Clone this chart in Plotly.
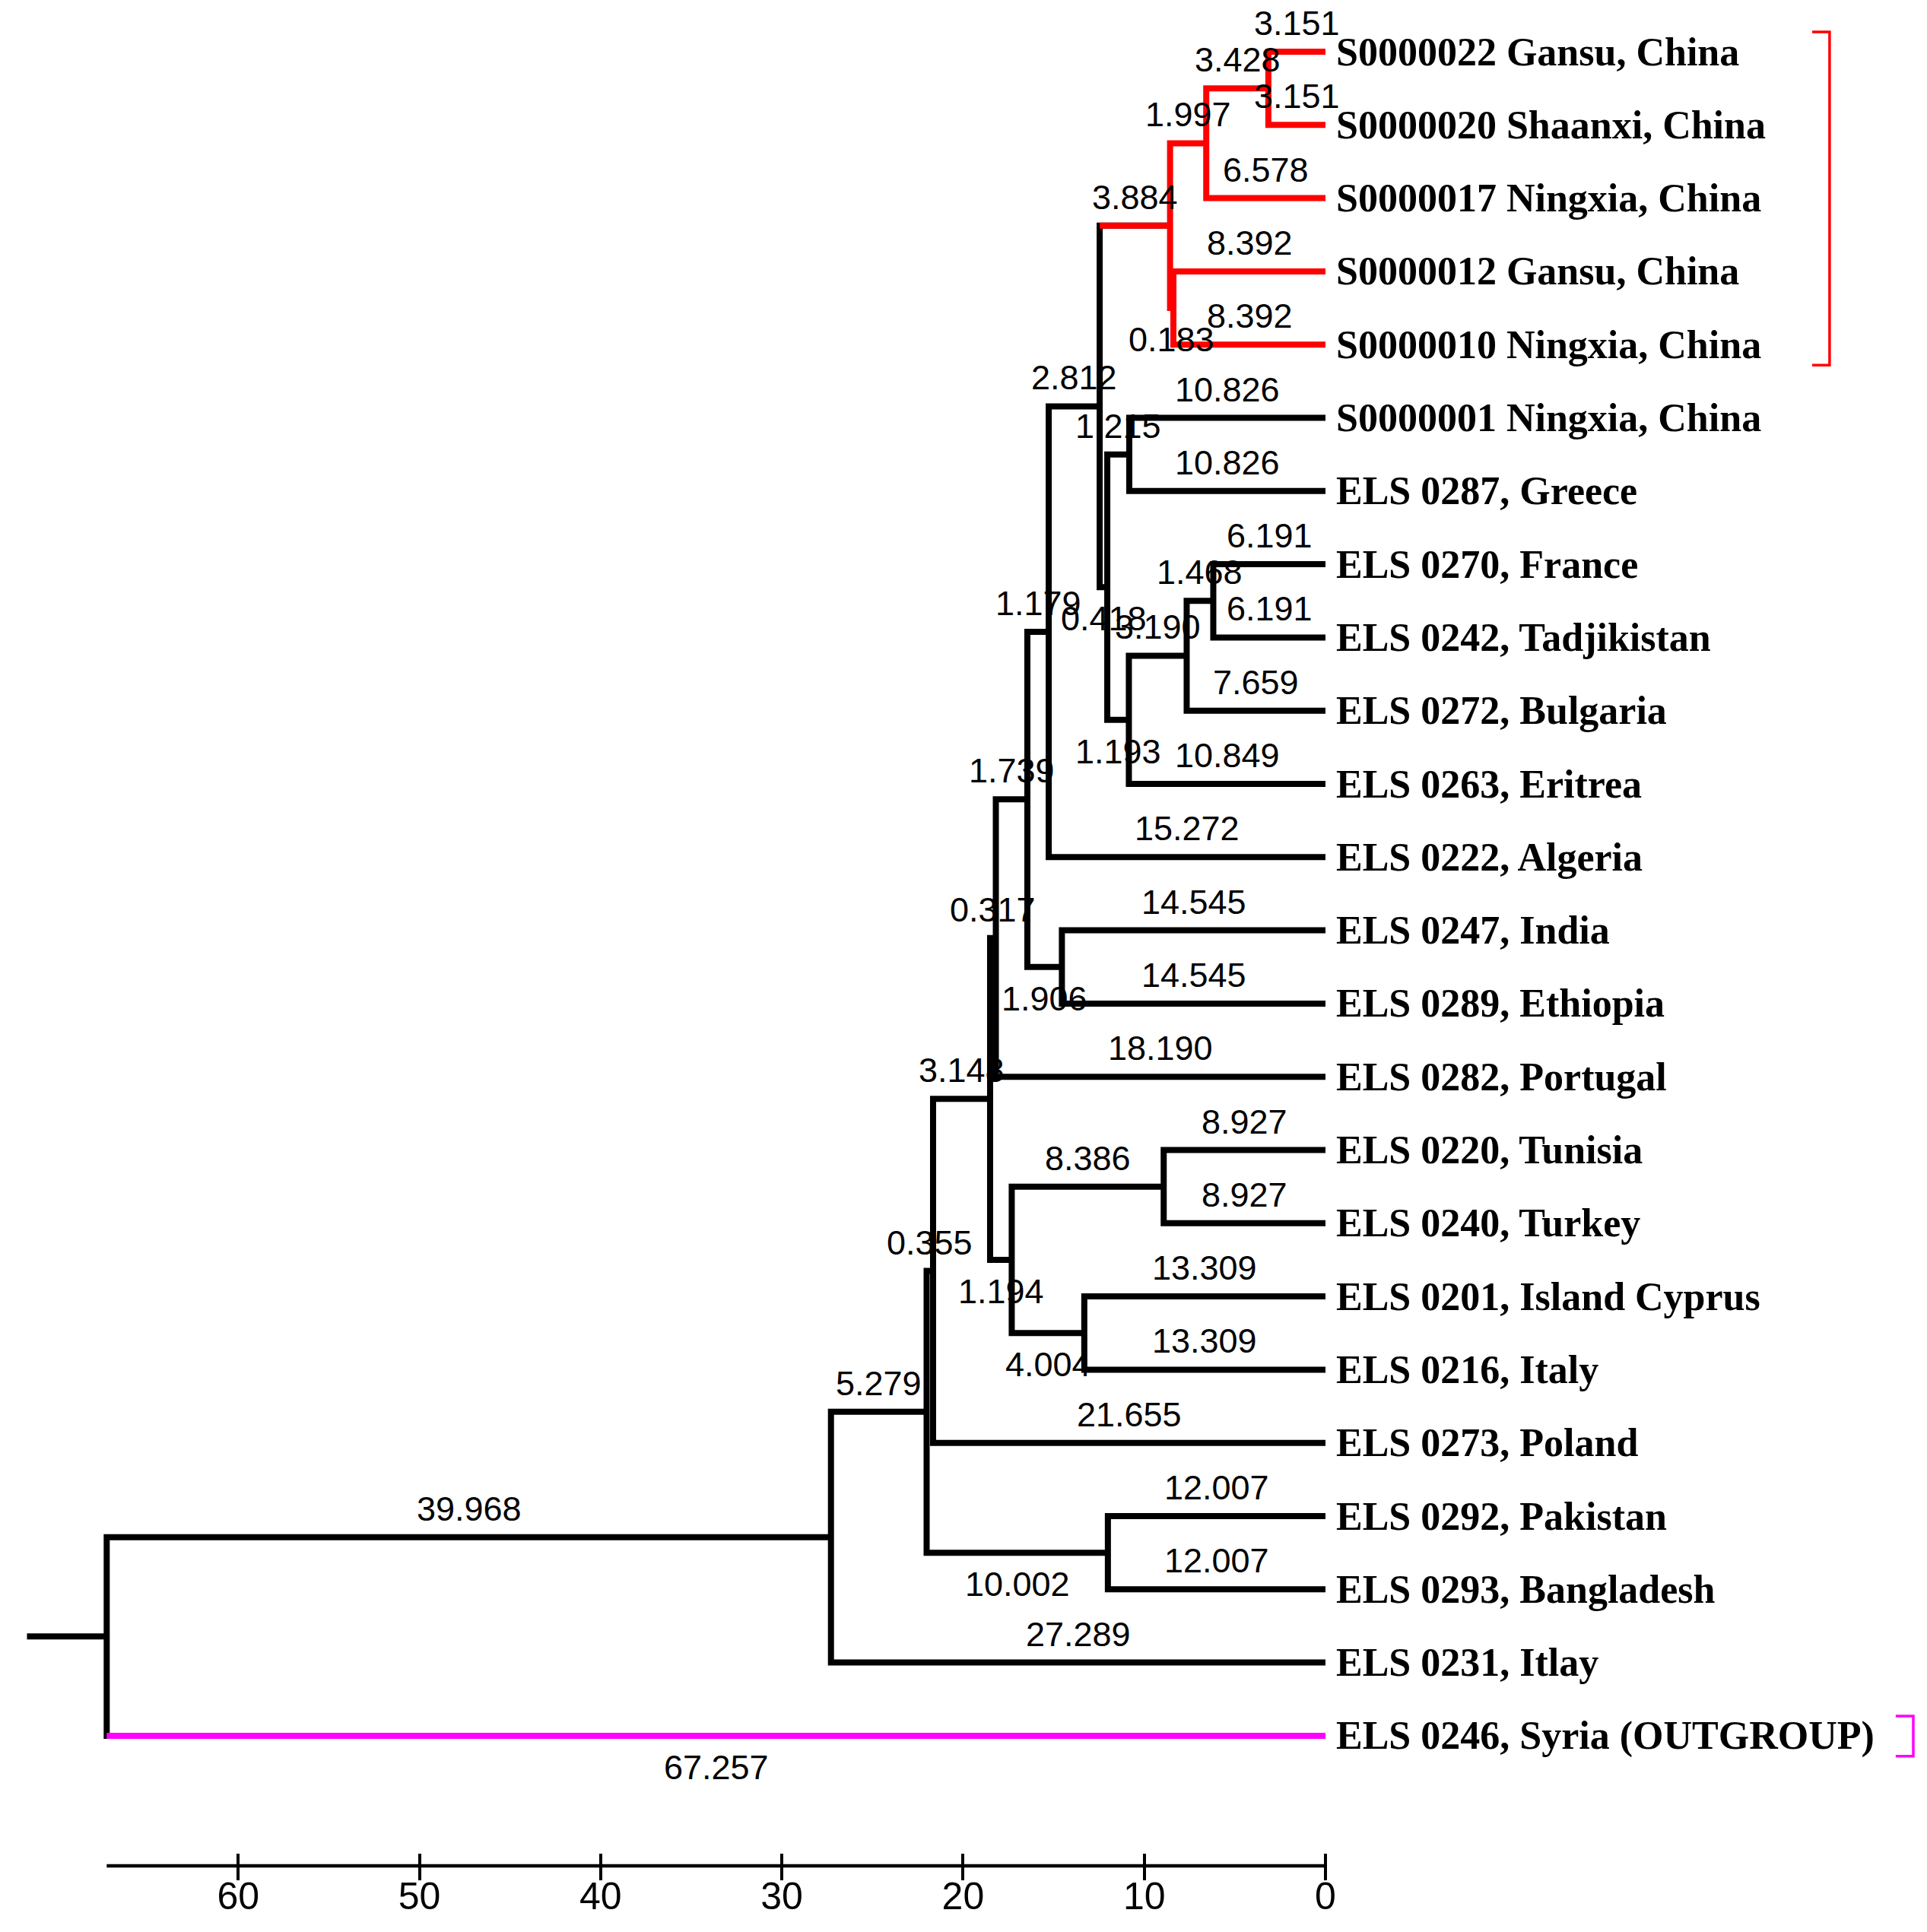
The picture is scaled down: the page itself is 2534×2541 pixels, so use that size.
import plotly.graph_objects as go

# leaves, top to bottom, with their terminal branch lengths
leaf_names = [
    "S0000022 Gansu, China", "S0000020 Shaanxi, China", "S0000017 Ningxia, China",
    "S0000012 Gansu, China", "S0000010 Ningxia, China", "S0000001 Ningxia, China",
    "ELS 0287, Greece", "ELS 0270, France", "ELS 0242, Tadjikistan",
    "ELS 0272, Bulgaria", "ELS 0263, Eritrea", "ELS 0222, Algeria",
    "ELS 0247, India", "ELS 0289, Ethiopia", "ELS 0282, Portugal",
    "ELS 0220, Tunisia", "ELS 0240, Turkey", "ELS 0201, Island Cyprus",
    "ELS 0216, Italy", "ELS 0273, Poland", "ELS 0292, Pakistan",
    "ELS 0293, Bangladesh", "ELS 0231, Itlay", "ELS 0246, Syria (OUTGROUP)",
]
leaf_lengths = [3.151, 3.151, 6.578, 8.392, 8.392, 10.826, 10.826, 6.191, 6.191,
                7.659, 10.849, 15.272, 14.545, 14.545, 18.190, 8.927, 8.927,
                13.309, 13.309, 21.655, 12.007, 12.007, 27.289, 67.257]

# internal nodes (children listed before parents): upper child, lower child, stem length
node_ids = ["A", "B", "C", "D", "E", "F", "G", "H", "I", "J", "K", "L",
            "M", "N", "O", "P", "Q", "R", "S", "T", "U", "V", "root"]
node_upper = [0, "A", 3, "B", 5, 7, "F", "G", "E", "D", "J", 12,
              "K", "M", 15, 17, "O", "N", "R", 20, "S", "U", "V"]
node_lower = [1, 2, 4, "C", 6, 8, 9, 10, "H", "I", 11, 13,
              "L", 14, 16, 18, "P", "Q", 19, 21, "T", 22, 23]
node_lengths = [3.428, 1.997, 0.183, 3.884, 1.215, 1.468, 3.190, 1.193, 0.418,
                2.812, 1.179, 1.906, 1.739, 0.317, 8.386, 4.004, 1.194, 3.148,
                0.355, 10.002, 5.279, 39.968, None]

# coloured groups and brackets
highlight_clades = ["D", 23]
highlight_colors = ["#FF0000", "#FF00FF"]
bracket_first = [0, 23]
bracket_last = [4, 23]
bracket_colors = ["#FF0000", "#FF00FF"]

tick_vals = [60, 50, 40, 30, 20, 10, 0]

# ---- build tree geometry ----
length = {i: v for i, v in enumerate(leaf_lengths)}
height = {i: 0.0 for i in range(len(leaf_names))}
ypos = {i: float(i) for i in range(len(leaf_names))}
children = {}
parent = {}
for nid, u, l, ln in zip(node_ids, node_upper, node_lower, node_lengths):
    children[nid] = (u, l)
    parent[u] = nid
    parent[l] = nid
    if ln is not None:
        length[nid] = ln
    height[nid] = height[u] + length[u]
    ypos[nid] = (ypos[u] + ypos[l]) / 2

seg_color = {n: "black" for n in height}


def paint(n, c):
    seg_color[n] = c
    if n in children:
        for ch in children[n]:
            paint(ch, c)


for clade, c in zip(highlight_clades, highlight_colors):
    paint(clade, c)

paths = {}


def add(color, xs, ys):
    px, py = paths.setdefault(color, ([], []))
    px.extend(xs + [None])
    py.extend(ys + [None])


root = "root"
root_stub = 4.4
add("black", [height[root], height[root] + root_stub], [ypos[root], ypos[root]])
for nid in node_ids:
    u, l = children[nid]
    h = height[nid]
    add(seg_color[nid], [height[u], h, h, height[l]], [ypos[u], ypos[u], ypos[l], ypos[l]])
for n, p in parent.items():
    if seg_color[n] != seg_color[p]:
        add(seg_color[n], [height[n], height[p]], [ypos[n], ypos[n]])

fig = go.Figure()
order = ["black"] + [c for c in paths if c != "black"]
for c in order:
    fig.add_trace(go.Scatter(x=paths[c][0], y=paths[c][1], mode="lines",
                             line=dict(color=c, width=8), hoverinfo="skip",
                             showlegend=False))

# scale baseline
axis_row = 24.777
fig.add_trace(go.Scatter(x=[height[root], 0], y=[axis_row, axis_row], mode="lines",
                         line=dict(color="black", width=4.5), hoverinfo="skip",
                         showlegend=False))

# brackets at the right edge
bracket_x = [(-26.86, -27.82), (-31.47, -32.44)]
for f, l, c, (bx0, bx1) in zip(bracket_first, bracket_last, bracket_colors, bracket_x):
    fig.add_trace(go.Scatter(x=[bx0, bx1, bx1, bx0],
                             y=[f - 0.27, f - 0.27, l + 0.28, l + 0.28],
                             mode="lines", line=dict(color=c, width=3.5),
                             hoverinfo="skip", showlegend=False))

num_font = dict(family="Liberation Sans Narrow, Arial Narrow, Liberation Sans, sans-serif",
                size=45, color="black")
lbl_font = dict(family="Liberation Serif, Times New Roman, serif", size=52, color="black")

# branch length labels
for n, p in parent.items():
    below = children[p][1] == n and (n in children or p == root)
    fig.add_annotation(x=(height[n] + height[p]) / 2, y=ypos[n],
                       text=f"{length[n]:.3f}", showarrow=False, font=num_font,
                       xanchor="center", yanchor="top" if below else "bottom",
                       yshift=-14 if below else 10)

# leaf labels
for i, name in enumerate(leaf_names):
    fig.add_annotation(x=0, y=i, text=f"<b>{name}</b>", showarrow=False, font=lbl_font,
                       xanchor="left", yanchor="middle", xshift=12)

fig.update_layout(
    width=2518, height=2525,
    margin=dict(l=0, r=0, t=0, b=0),
    paper_bgcolor="white", plot_bgcolor="white",
    xaxis=dict(range=[72.81, -32.86], showgrid=False, zeroline=False, showline=False,
               anchor="free", position=0.03802, ticks="outside", ticklen=35, tickwidth=4,
               tickcolor="black", tickvals=tick_vals, ticktext=[str(v) for v in tick_vals],
               ticklabelstandoff=-22,
               tickfont=dict(family="Liberation Sans Narrow, Arial Narrow, Liberation Sans, sans-serif",
                             size=50, color="black"),
               automargin=False),
    yaxis=dict(range=[25.597, -0.6231], visible=False, automargin=False),
)

fig.write_html("out.html")
